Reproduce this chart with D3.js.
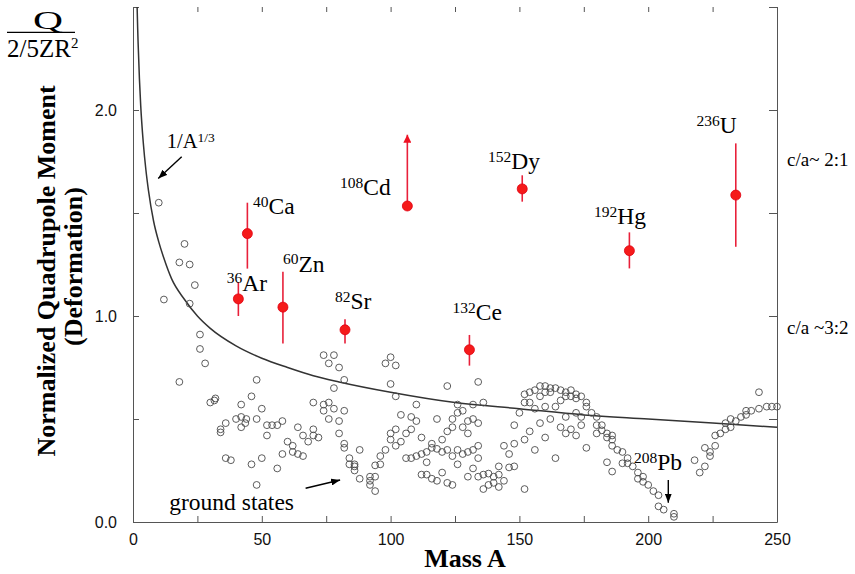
<!DOCTYPE html>
<html><head><meta charset="utf-8">
<script src="https://cdn.jsdelivr.net/npm/d3@7"></script>
<style>body{margin:0;background:#fff} svg{display:block}</style>
</head><body>
<svg id="c" width="855" height="574"></svg>
<script>
// ---------- DATA ----------
const xMinorTicks = [0,25,50,75,100,125,150,175,200,225,250];
const xTickLabels = [0,50,100,150,200,250];
const yMinorTicks = [0,0.5,1.0,1.5,2.0,2.5];
const yTickLabels = [0,1,2];

// 1/A^(1/3) reference curve
const curveA = [1.6,1.8,2,2.5,3,4,5,6,8,10,12,15,20,25,30,40,50,60,70,80,100,125,150,175,200,225,250];
const curveQ = [2.50,2.40,2.32,2.15,2.02,1.84,1.71,1.61,1.46,1.36,1.28,1.18,1.08,1.00,0.94,0.855,0.795,0.75,0.71,0.68,0.63,0.58,0.55,0.52,0.50,0.48,0.46];

// measured superdeformed / deformed states
const isoSup  = ["36","40","60","82","108","132","152","192","236"];
const isoSym  = ["Ar","Ca","Zn","Sr","Cd","Ce","Dy","Hg","U"];
const measA   = [40.9,44.4,58.2,82.3,106.5,130.6,151.1,192.7,234.0];
const measQ   = [1.083,1.40,1.043,0.933,1.534,0.836,1.617,1.317,1.587];
const measLo  = [1.00,1.23,0.867,0.867,1.534,0.759,1.555,1.231,1.336];
const measHi  = [1.165,1.55,1.215,0.984,1.88,0.908,1.683,1.406,1.838];
const isLowerLimit = [false,false,false,false,true,false,false,false,false];

// ground states [A, Q]
const groundStates = [
[10,1.55],[20,1.35],[18,1.26],[22,1.25],[24,1.15],[12,1.08],[22,1.06],[26,0.91],[26,0.84],[28,0.77],
[18,0.68],[32,0.60],[31.6,0.59],[30,0.58],[36,0.48],[34,0.45],[34,0.435],[36,0.31],[38,0.30],[48,0.69],
[46,0.61],[42,0.57],[50,0.55],[40,0.50],[42,0.51],[44,0.50],[43.6,0.48],[42,0.46],[48,0.50],[52,0.47],
[54,0.47],[56,0.47],[58,0.49],[52,0.42],[46,0.28],[50,0.31],[56,0.26],[48,0.18],[58,0.33],[60,0.39],
[62,0.37],[62,0.34],[64,0.33],[66,0.32],[64,0.46],[66,0.42],[68,0.39],[70,0.42],[70,0.45],[72,0.41],
[70,0.58],[74,0.81],[78,0.81],[76,0.77],[80,0.75],[82,0.69],[78,0.65],[74,0.57],[76,0.58],[74,0.54],
[78,0.55],[82,0.54],[76,0.50],[80,0.49],[80,0.43],[82,0.38],[82,0.36],[84,0.31],[84,0.28],[86,0.28],
[86,0.27],[86,0.25],[88,0.21],[88,0.35],[100,0.80],[98,0.77],[102,0.76],[100,0.67],[102,0.61],[122,0.66],
[110,0.57],[104,0.52],[108,0.51],[110,0.49],[118,0.50],[126,0.57],[126,0.53],[124,0.50],[102,0.45],[100,0.43],
[100,0.40],[104,0.39],[102,0.37],[108,0.45],[106,0.43],[112,0.41],[120,0.40],[122,0.44],[124,0.46],[116,0.38],
[116,0.36],[118,0.355],[114,0.34],[112,0.33],[110,0.32],[108,0.31],[106,0.31],[114,0.29],[98,0.35],[96,0.32],
[96,0.28],[94,0.275],[92,0.22],[94,0.22],[92,0.20],[92,0.18],[94,0.15],[120,0.34],[122,0.35],[124,0.32],
[126,0.35],[126,0.28],[112,0.23],[114,0.23],[116,0.21],[118,0.20],[120,0.24],[122,0.19],[124,0.18],[134,0.68],
[136,0.58],[132,0.57],[128,0.54],[132,0.50],[130,0.49],[134,0.48],[128,0.46],[130,0.43],[134,0.37],[132,0.35],
[130,0.34],[128,0.33],[134,0.31],[132,0.26],[130,0.22],[134,0.22],[136,0.23],[138,0.235],[140,0.22],[142,0.27],
[142,0.23],[144,0.20],[140,0.19],[138,0.18],[136,0.16],[142,0.17],[144,0.37],[146,0.33],[148,0.38],[148,0.27],
[146,0.265],[148,0.47],[150,0.53],[152,0.40],[154,0.44],[156,0.35],[158,0.48],[160,0.41],[162,0.50],[164,0.31],
[152,0.16],[152,0.62],[154,0.63],[156,0.64],[158,0.66],[160,0.66],[162,0.65],[158,0.61],[160,0.63],[162,0.63],
[164,0.65],[166,0.64],[168,0.63],[170,0.61],[168,0.61],[152,0.58],[154,0.58],[156,0.55],[160,0.56],[164,0.56],
[166,0.59],[168,0.51],[166,0.46],[168,0.43],[170,0.64],[172,0.62],[172,0.60],[174,0.61],[176,0.58],[176,0.56],
[172,0.53],[174,0.51],[178,0.53],[180,0.51],[170,0.45],[172,0.42],[174,0.47],[176,0.36],[180,0.47],[182,0.47],
[180,0.43],[182,0.445],[184,0.43],[184,0.41],[186,0.42],[186,0.40],[186,0.37],[188,0.35],[190,0.34],[190,0.285],
[184,0.29],[186,0.245],[192,0.31],[192,0.285],[194,0.27],[196,0.24],[196,0.21],[198,0.22],[198,0.195],[200,0.18],
[202,0.15],[204,0.13],[204,0.076],[206,0.06],[210,0.04],[210,0.025],[218,0.30],[220,0.24],[222,0.27],[222,0.36],
[224,0.34],[224,0.32],[226,0.37],[226,0.42],[228,0.43],[230,0.45],[230,0.48],[232,0.50],[232,0.46],[234,0.49],
[236,0.51],[238,0.52],[238,0.54],[240,0.54],[243,0.63],[243,0.55],[246,0.56],[248,0.56],[250,0.56]
];

// ---------- LAYOUT ----------
const svg = d3.select("#c");
const X = d3.scaleLinear().domain([0,250]).range([133,777]);
const Y = d3.scaleLinear().domain([0,2.5]).range([522,7]);
const AX = "#555";
const serif = "'Liberation Serif','Times New Roman',serif";
const sans  = "'Liberation Sans',Arial,sans-serif";

const defs = svg.append("defs");
function marker(id, color, len, wid){
  defs.append("marker").attr("id",id).attr("markerUnits","userSpaceOnUse")
    .attr("markerWidth",len).attr("markerHeight",wid).attr("refX",len).attr("refY",wid/2)
    .attr("orient","auto")
    .append("path").attr("d",`M0,0L${len},${wid/2}L0,${wid}Z`).attr("fill",color);
}
marker("arrK","#000",9,7);
marker("arrR","#ee1122",8,8);

// axes
function styleAxis(g){
  g.selectAll(".domain").attr("stroke",AX).attr("stroke-width",1);
  g.selectAll(".tick line").attr("stroke",AX).attr("stroke-width",1);
  g.selectAll(".tick text").attr("font-family",sans).attr("font-size",16).attr("fill","#111");
}
svg.append("g").attr("transform","translate(0,522)")
  .call(d3.axisBottom(X).tickValues(xMinorTicks).tickSizeInner(-6).tickSizeOuter(0).tickPadding(11.5)
        .tickFormat(d => xTickLabels.includes(d) ? String(d) : ""))
  .call(styleAxis);
svg.append("g").attr("transform","translate(133,0)")
  .call(d3.axisLeft(Y).tickValues(yMinorTicks).tickSizeInner(-6).tickSizeOuter(0).tickPadding(16)
        .tickFormat(d => yTickLabels.includes(d) ? d.toFixed(1) : ""))
  .call(styleAxis);
svg.append("g").attr("transform","translate(777,0)")
  .call(d3.axisRight(Y).tickValues(yMinorTicks).tickSizeInner(-8).tickSizeOuter(0).tickFormat(""))
  .call(styleAxis);
const topAxis = svg.append("g").attr("transform","translate(0,7)")
  .call(d3.axisTop(X).tickValues(xMinorTicks).tickSizeInner(-5).tickSizeOuter(0).tickFormat(""))
  .call(styleAxis);
topAxis.select(".domain").remove();

// curve
const curvePts = curveA.map((a,i)=>[a,curveQ[i]]);
svg.append("path").datum(curvePts)
  .attr("d", d3.line().x(d=>X(d[0])).y(d=>Y(d[1])).curve(d3.curveMonotoneX))
  .attr("fill","none").attr("stroke","#333").attr("stroke-width",1.5);

// ground states
svg.append("g").selectAll("circle").data(groundStates).join("circle")
  .attr("cx",d=>X(d[0])).attr("cy",d=>Y(d[1])).attr("r",3.4)
  .attr("fill","none").attr("stroke","#4a4a4a").attr("stroke-width",0.9);

// error bars
const meas = measA.map((a,i)=>({a,q:measQ[i],lo:measLo[i],hi:measHi[i],lim:isLowerLimit[i]}));
svg.append("g").selectAll("line").data(meas).join("line")
  .attr("x1",d=>X(d.a)).attr("x2",d=>X(d.a))
  .attr("y1",d=>Y(d.lo)).attr("y2",d=>Y(d.hi))
  .attr("stroke","#e8203a").attr("stroke-width",1.6)
  .attr("marker-end",d=>d.lim ? "url(#arrR)" : null);
svg.append("g").selectAll("circle").data(meas).join("circle")
  .attr("cx",d=>X(d.a)).attr("cy",d=>Y(d.q)).attr("r",5)
  .attr("fill","#f51a1a").attr("stroke","#e00010").attr("stroke-width",0.8);

// isotope labels
const labelPos = [[226.7,290.7],[253,214.3],[283,271.7],[335,309.3],[340,195],[452.5,320],[488,169],[594,224],[696.5,133.3]];
function isoLabel(x,y,sup,sym){
  const t = svg.append("text").attr("x",x).attr("y",y).attr("font-family",serif).attr("fill","#000");
  t.append("tspan").attr("font-size",15.5).attr("dy",-7.5).text(sup);
  t.append("tspan").attr("font-size",23.5).attr("dy",7.5).text(sym);
}
isoSup.forEach((s,i)=>isoLabel(labelPos[i][0],labelPos[i][1],s,isoSym[i]));
isoLabel(634,470,"208","Pb");

// annotation arrows
function arrow(a1,q1,a2,q2){
  svg.append("line").attr("x1",X(a1)).attr("y1",Y(q1)).attr("x2",X(a2)).attr("y2",Y(q2))
    .attr("stroke","#000").attr("stroke-width",1.4).attr("marker-end","url(#arrK)");
}
arrow(18.9,1.773,9.8,1.668);
arrow(67.0,0.164,80.4,0.204);
arrow(207.8,0.204,207.8,0.094);

// curve label
const cl = svg.append("text").attr("x",166.7).attr("y",148).attr("font-family",serif).attr("fill","#000");
cl.append("tspan").attr("font-size",20.5).text("1/A");
cl.append("tspan").attr("font-size",13.5).attr("dy",-6.5).text("1/3");

svg.append("text").attr("x",169.3).attr("y",510).attr("font-family",serif).attr("font-size",23.5).text("ground states");
svg.append("text").attr("x",787).attr("y",166).attr("font-family",serif).attr("font-size",19).text("c/a~ 2:1");
svg.append("text").attr("x",787).attr("y",333.5).attr("font-family",serif).attr("font-size",19).text("c/a ~3:2");

// fraction Q / (2/5 Z R^2)
svg.append("text").attr("x",33).attr("y",29.3).attr("font-family",serif).attr("font-size",25)
  .attr("textLength",30).attr("lengthAdjust","spacingAndGlyphs").text("Q");
svg.append("line").attr("x1",7).attr("x2",75).attr("y1",32.3).attr("y2",32.3).attr("stroke","#000").attr("stroke-width",1.2);
const den = svg.append("text").attr("x",7).attr("y",56.7).attr("font-family",serif).attr("fill","#000");
den.append("tspan").attr("font-size",25).text("2/5ZR");
den.append("tspan").attr("font-size",15).attr("dy",-9).text("2");

// axis titles
svg.append("text").attr("transform","translate(55,271) rotate(-90)").attr("text-anchor","middle")
  .attr("font-family",serif).attr("font-weight","bold").attr("font-size",26).text("Normalized Quadrupole Moment");
svg.append("text").attr("transform","translate(82,266.5) rotate(-90)").attr("text-anchor","middle")
  .attr("font-family",serif).attr("font-weight","bold").attr("font-size",26).text("(Deformation)");
svg.append("text").attr("x",465).attr("y",567).attr("text-anchor","middle")
  .attr("font-family",serif).attr("font-weight","bold").attr("font-size",26).text("Mass A");
</script>
</body></html>
